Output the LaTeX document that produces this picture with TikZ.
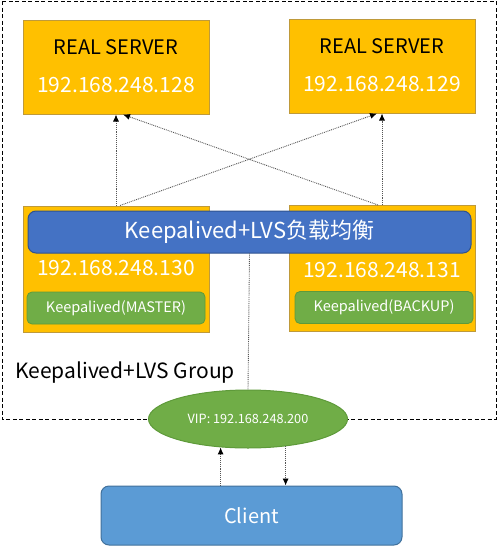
\documentclass[tikz,border=0pt]{standalone}
\usepackage{fontspec}
\setmainfont{Noto Sans CJK SC}
\usepackage{xcolor}
\usetikzlibrary{positioning,
	shapes,
	arrows,
	arrows.meta}
\definecolor{srvfill}{HTML}{FFC000}
\definecolor{srvedge}{HTML}{BF9A3A}
\definecolor{barfill}{HTML}{4472C4}
\definecolor{baredge}{HTML}{2F528F}
\definecolor{kafill}{HTML}{70AD47}
\definecolor{kaedge}{HTML}{5E9A3A}
\definecolor{clifill}{HTML}{5B9BD5}
\definecolor{cliedge}{HTML}{41719C}
\definecolor{flowgray}{HTML}{555555}

\begin{document}
\begin{tikzpicture}[x=1pt, y=-1pt,
	server/.style={draw=srvedge, fill=srvfill, line width=1pt, minimum width=186pt, inner sep=0pt},
	katag/.style={draw=kaedge, fill=kafill, line width=0.8pt, rounded corners=5pt, minimum width=178pt, minimum height=32pt, inner sep=0pt, text=white, font=\fontsize{14.5}{16}\selectfont},
	flow/.style={draw=flowgray, densely dotted, line width=0.9pt},
	tip/.style={-{Latex[length=7pt, width=6pt, black]}},
	iptext/.style={text=white, font=\fontsize{21}{24}\selectfont, inner sep=0pt}]
	\useasboundingbox (0,0) rectangle (498,546);

	\draw[line width=1pt, dash pattern=on 4pt off 2.5pt] (2,1) rectangle (496,419);

	\node (rs1) [server, minimum height=94pt] at (116,67) {};
	\node (rs1name) [font=\fontsize{20}{24}\selectfont, inner sep=0pt] at (116,47) {REAL SERVER};
	\node (rs1ip) [iptext] at (116,85) {192.168.248.128};
	\node (rs2) [server, minimum height=94pt] at (382,66) {};
	\node (rs2name) [font=\fontsize{20}{24}\selectfont, inner sep=0pt] at (382,46) {REAL SERVER};
	\node (rs2ip) [iptext] at (382,84) {192.168.248.129};

	\node (lb1) [server, minimum height=126pt] at (116,269) {};
	\node (lb2) [server, minimum height=126pt] at (382,268.5) {};
	\node (lb1ip) [iptext] at (116,268) {192.168.248.130};
	\node (lb2ip) [iptext] at (382,270) {192.168.248.131};
	\node (master) [katag] at (116,308) {Keepalived(MASTER)};
	\node (backup) [katag] at (384,307.5) {Keepalived(BACKUP)};

	\draw[flow, tip] (lb1.north) -- (rs1.south);
	\draw[flow, tip] ([xshift=4pt]lb1.north) -- ([xshift=-5pt]rs2.south);
	\draw[flow, tip] (lb2.north) -- (rs2.south);
	\draw[flow, tip] ([xshift=-4pt]lb2.north) -- ([xshift=7pt]rs1.south);

	\node (lvs) [draw=baredge, fill=barfill, line width=1pt, rounded corners=8pt, minimum width=443pt, minimum height=42pt, inner sep=0pt, text=white, font=\fontsize{22}{26}\selectfont] at (249.5,232) {Keepalived+LVS负载均衡};

	\node (group) [anchor=west, inner sep=0pt, font=\fontsize{21}{24}\selectfont] at (15,373) {Keepalived+LVS Group};

	\node (vip) [ellipse, draw=kaedge, fill=kafill, line width=1pt, minimum width=199pt, minimum height=58pt, inner sep=0pt, text=white, font=\fontsize{12.7}{14}\selectfont] at (248,419) {VIP: 192.168.248.200};
	\draw[flow] (lvs.south) -- (vip.north);

	\node (client) [draw=cliedge, fill=clifill, line width=1pt, rounded corners=8pt, minimum width=301pt, minimum height=59pt, inner sep=0pt, text=white, font=\fontsize{20}{24}\selectfont] at (251.5,515.5) {Client};

	\draw[flow, tip] (client.north -| vip.226) -- (vip.226);
	\draw[flow, tip] (vip.324) -- (vip.324 |- client.north);
\end{tikzpicture}
\end{document}
